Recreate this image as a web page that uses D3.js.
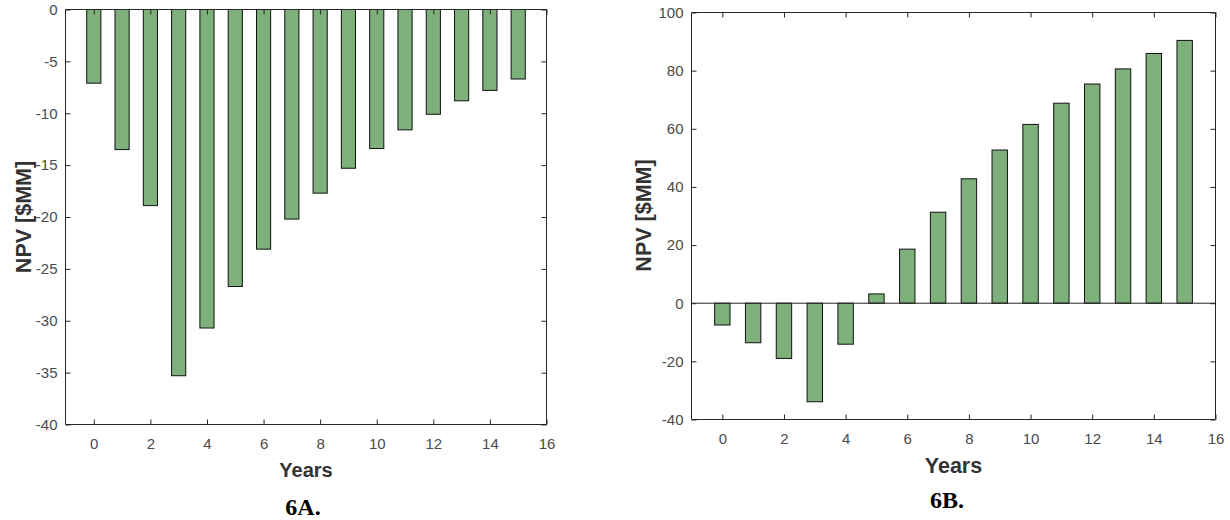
<!DOCTYPE html>
<html>
<head>
<meta charset="utf-8">
<script src="https://cdn.jsdelivr.net/npm/d3@7"></script>
<style>
  html, body { margin: 0; padding: 0; background: #fff; }
  svg { display: block; }
</style>
</head>
<body>
<svg id="chart" width="1230" height="520"></svg>
<script>
// Years on the horizontal axis (shared by both panels)
const years = [0, 1, 2, 3, 4, 5, 6, 7, 8, 9, 10, 11, 12, 13, 14, 15];

// Panel 6A: NPV per year [$MM]
const npvA = [-7.1, -13.5, -18.9, -35.3, -30.7, -26.7, -23.1, -20.2, -17.7, -15.3, -13.4, -11.6, -10.1, -8.8, -7.8, -6.7];

// Panel 6B: NPV per year [$MM]
const npvB = [-7.5, -13.6, -19.0, -33.9, -14.1, 3.2, 18.6, 31.3, 42.8, 52.7, 61.5, 68.8, 75.4, 80.6, 85.9, 90.4];

// Tick values
const xTicks = [0, 2, 4, 6, 8, 10, 12, 14, 16];
const yTicksA = [0, -5, -10, -15, -20, -25, -30, -35, -40];
const yTicksB = [-40, -20, 0, 20, 40, 60, 80, 100];

const svg = d3.select("#chart");
const axisColor = "#262626";
const labelColor = "#4a4a4a";
const barFill = "#7db07b";
const sans = "'Liberation Sans', Arial, Helvetica, sans-serif";
const serif = "'Liberation Serif', 'Times New Roman', serif";
const plain = d => String(d); // hyphen-minus, as in the printed figure

function drawPanel(cfg) {
  const x = d3.scaleLinear().domain([-1, 16]).range([cfg.left, cfg.right]);
  const y = d3.scaleLinear().domain(cfg.yDomain).range([cfg.bottom, cfg.top]);
  const g = svg.append("g");
  const tickLen = 5;

  // bars
  const bw = x(0.5) - x(0);
  g.selectAll("rect.bar")
    .data(cfg.values.map((v, i) => ({ year: years[i], v })))
    .join("rect")
    .attr("class", "bar")
    .attr("x", d => x(d.year) - bw / 2)
    .attr("width", bw)
    .attr("y", d => Math.min(y(d.v), y(0)))
    .attr("height", d => Math.abs(y(d.v) - y(0)))
    .attr("fill", barFill)
    .attr("stroke", "#111")
    .attr("stroke-width", 1);

  // zero baseline
  if (cfg.baseline) {
    g.append("line")
      .attr("x1", cfg.left).attr("x2", cfg.right)
      .attr("y1", y(0)).attr("y2", y(0))
      .attr("stroke", axisColor).attr("stroke-width", 1);
  }

  // axes: bottom/left labelled, top/right as plain inward ticks
  const bottom = d3.axisBottom(x).tickValues(xTicks).tickSize(-tickLen).tickPadding(14).tickFormat(plain);
  const top = d3.axisTop(x).tickValues(xTicks).tickSize(-tickLen).tickFormat("");
  const left = d3.axisLeft(y).tickValues(cfg.yTicks).tickSize(-tickLen).tickPadding(8).tickFormat(plain);
  const right = d3.axisRight(y).tickValues(cfg.yTicks).tickSize(-tickLen).tickFormat("");

  const gb = g.append("g").attr("transform", `translate(0,${cfg.bottom})`).call(bottom);
  const gt = g.append("g").attr("transform", `translate(0,${cfg.top})`).call(top);
  const gl = g.append("g").attr("transform", `translate(${cfg.left},0)`).call(left);
  const gr = g.append("g").attr("transform", `translate(${cfg.right},0)`).call(right);

  [gb, gt, gl, gr].forEach(a => {
    a.select(".domain").attr("stroke", axisColor).attr("stroke-width", 1);
    a.selectAll(".tick line").attr("stroke", axisColor).attr("stroke-width", 1);
    a.selectAll(".tick text")
      .attr("fill", labelColor)
      .style("font-family", sans)
      .style("font-size", "15px");
  });
  // make the box corners meet cleanly
  gb.select(".domain").attr("d", `M${cfg.left},0H${cfg.right}`);
  gt.select(".domain").attr("d", `M${cfg.left},0H${cfg.right}`);
  gl.select(".domain").attr("d", `M0,${cfg.top}V${cfg.bottom}`);
  gr.select(".domain").attr("d", `M0,${cfg.top}V${cfg.bottom}`);

  // axis titles
  g.append("text")
    .attr("x", (cfg.left + cfg.right) / 2)
    .attr("y", cfg.xTitleY)
    .attr("text-anchor", "middle")
    .attr("fill", "#333")
    .style("font-family", sans)
    .style("font-weight", "bold")
    .style("font-size", cfg.xTitleSize + "px")
    .text("Years");

  g.append("text")
    .attr("transform", `translate(${cfg.yTitleX},${cfg.yTitleCy}) rotate(-90)`)
    .attr("text-anchor", "middle")
    .attr("fill", "#333")
    .style("font-family", sans)
    .style("font-weight", "bold")
    .style("font-size", cfg.yTitleSize + "px")
    .text("NPV [$MM]");

  // panel caption
  svg.append("text")
    .attr("x", cfg.capX)
    .attr("y", cfg.capY)
    .attr("text-anchor", "middle")
    .attr("fill", "#000")
    .style("font-family", serif)
    .style("font-weight", "bold")
    .style("font-size", "24px")
    .text(cfg.caption);
}

drawPanel({
  values: npvA, yDomain: [-40, 0], yTicks: yTicksA, baseline: false,
  left: 65.5, right: 546.5, top: 9.5, bottom: 424.5,
  xTitleY: 477, xTitleSize: 20,
  yTitleX: 30.5, yTitleCy: 217, yTitleSize: 21.5,
  caption: "6A.", capX: 303, capY: 515
});

drawPanel({
  values: npvB, yDomain: [-40, 100], yTicks: yTicksB, baseline: true,
  left: 691.5, right: 1215.5, top: 12.5, bottom: 419.5,
  xTitleY: 472.5, xTitleSize: 21.5,
  yTitleX: 650.5, yTitleCy: 215.5, yTitleSize: 21.5,
  caption: "6B.", capX: 947, capY: 508
});
</script>
</body>
</html>
